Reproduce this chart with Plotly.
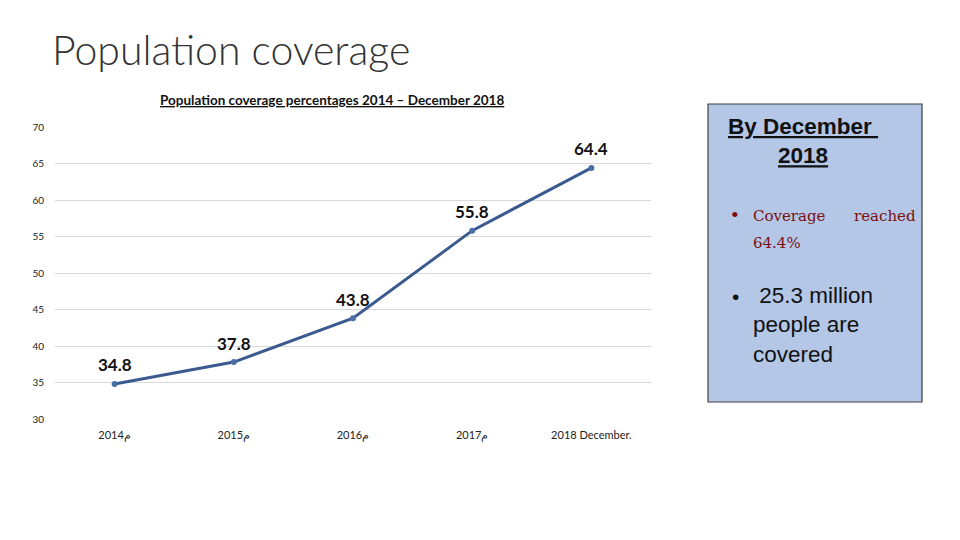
import plotly.graph_objects as go

categories = ["2014م", "2015م", "2016م", "2017م", "2018 December."]
coverage = [34.8, 37.8, 43.8, 55.8, 64.4]
y_ticks = [30, 35, 40, 45, 50, 55, 60, 65, 70]

W, H = 960, 540
L, R, T, B = 55, 309, 127, 121
PW, PH = W - L - R, H - T - B

def px(x):
    return (x - L) / PW

def py(y):
    return (H - B - y) / PH

fig = go.Figure()
fig.add_trace(go.Scatter(
    x=categories, y=coverage, mode="lines+markers",
    line=dict(color="#3b5a8f", width=3),
    marker=dict(color="#4a6fa8", size=6),
    cliponaxis=False, showlegend=False,
))

fig.update_layout(
    width=W, height=H, margin=dict(l=L, r=R, t=T, b=B),
    paper_bgcolor="white", plot_bgcolor="white",
    font=dict(family="Lato", color="#222222"),
)
fig.update_xaxes(
    type="category", range=[-0.5, 4.5], showgrid=False, showline=False,
    ticks="", tickfont=dict(family="Lato", size=11, color="#222222"),
    ticklabelstandoff=8,
)
fig.update_yaxes(
    range=[30, 70], tickvals=y_ticks, showgrid=True, gridcolor="#d9d9d9",
    gridwidth=1, zeroline=False, showline=False, ticks="",
    tickfont=dict(family="Lato", size=10, color="#222222"),
    ticklabelstandoff=10,
)

ann = []
for c, v in zip(categories, coverage):
    ann.append(dict(text=f"<b>{v:.1f}</b>", x=c, y=v, xref="x", yref="y",
                    yshift=19, xanchor="center", yanchor="middle", showarrow=False,
                    font=dict(family="Lato", size=17, color="#111111")))
ann.append(dict(text="Population coverage", x=px(50), y=py(50), xref="paper", yref="paper",
                xanchor="left", yanchor="middle", showarrow=False,
                font=dict(family="Lato", size=41, weight=300, color="#333333")))
ann.append(dict(text="<b><u>Population coverage percentages 2014 – December 2018</u></b>",
                x=px(332), y=py(100), xref="paper", yref="paper",
                xanchor="center", yanchor="middle", showarrow=False,
                font=dict(family="Lato", size=13.5, color="#111111")))

fig.add_shape(type="rect", xref="paper", yref="paper",
              x0=px(708), x1=px(922), y0=py(402), y1=py(104),
              fillcolor="#b4c7e7", line=dict(color="#404040", width=1.2), layer="below")

ann.append(dict(text="<b><u>By December </u></b><br><b><u>2018</u></b>",
                x=px(803), y=py(141), xref="paper", yref="paper",
                xanchor="center", yanchor="middle", showarrow=False, align="center",
                font=dict(family="Liberation Sans", size=22.5, color="#111111")))
ann.append(dict(text="•", x=px(735), y=py(214), xref="paper", yref="paper",
                xanchor="center", yanchor="middle", showarrow=False,
                font=dict(family="Liberation Serif", size=22, color="#7a1010")))
ann.append(dict(text="Coverage      reached", x=px(751), y=py(216), xref="paper", yref="paper",
                xanchor="left", yanchor="middle", showarrow=False,
                font=dict(family="DejaVu Serif", size=15, color="#7a1010")))
ann.append(dict(text="64.4%", x=px(751), y=py(243), xref="paper", yref="paper",
                xanchor="left", yanchor="middle", showarrow=False,
                font=dict(family="DejaVu Serif", size=15, color="#7a1010")))
ann.append(dict(text="•", x=px(735), y=py(296), xref="paper", yref="paper",
                xanchor="center", yanchor="middle", showarrow=False,
                font=dict(family="Liberation Sans", size=21, color="#111111")))
ann.append(dict(text=" 25.3 million<br>people are<br>covered", x=px(751), y=py(325), xref="paper", yref="paper",
                xanchor="left", yanchor="middle", showarrow=False, align="left",
                font=dict(family="Liberation Sans", size=22.5, color="#111111")))
fig.update_layout(annotations=ann)

fig.write_html("out.html", config={"displayModeBar": False},
               post_script="document.body.style.margin='0';")
